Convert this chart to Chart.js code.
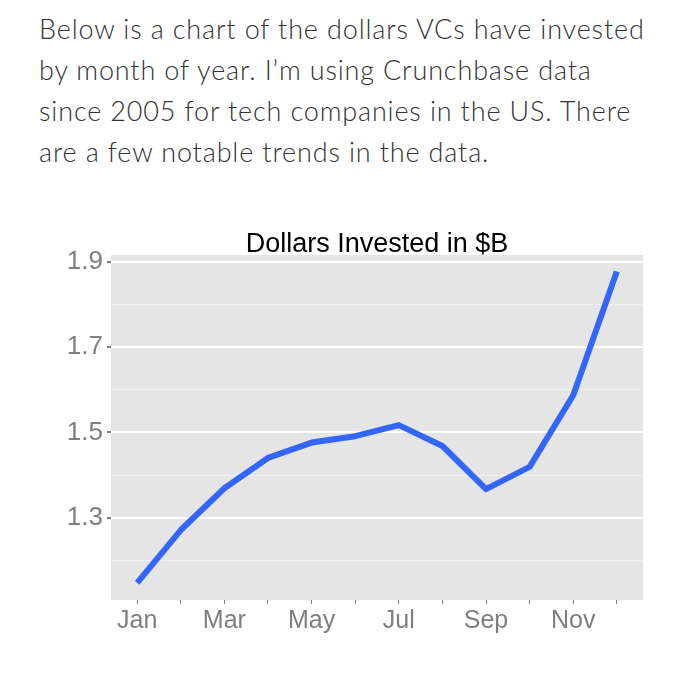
<!DOCTYPE html>
<html>
<head>
<meta charset="utf-8">
<script src="https://cdn.jsdelivr.net/npm/chart.js@4/dist/chart.umd.min.js"></script>
<style>
  html, body { margin: 0; padding: 0; background: #fff; }
  body { width: 690px; height: 679px; position: relative; overflow: hidden; }
  #intro {
    position: absolute; left: 39px; top: 8px; width: 650px; margin: 0;
    font-family: "Lato", "Open Sans", sans-serif; font-weight: 300;
    font-size: 27px; line-height: 41px; letter-spacing: 0.85px; color: #333;
    white-space: nowrap;
  }
  #wrap { position: absolute; left: 0; top: 215px; width: 690px; height: 450px; }
</style>
</head>
<body>
<p id="intro">Below is a chart of the dollars VCs have invested<br>by month of year. I’m using Crunchbase data<br>since 2005 for tech companies in the US. There<br>are a few notable trends in the data.</p>
<div id="wrap"><canvas id="chart"></canvas></div>
<script>
(function () {
  "use strict";

  const chartTitle = "Dollars Invested in $B";
  const months = ["Jan", "Feb", "Mar", "Apr", "May", "Jun", "Jul", "Aug", "Sep", "Oct", "Nov", "Dec"];
  const dollars = [1.147, 1.271, 1.369, 1.440, 1.476, 1.491, 1.517, 1.468, 1.367, 1.419, 1.587, 1.877];
  const yTicks = [1.2, 1.3, 1.4, 1.5, 1.6, 1.7, 1.8, 1.9];
  const yLabels = ["1.3", "1.5", "1.7", "1.9"];

  const FONT = "'Liberation Sans', Arial, Helvetica, sans-serif";
  const GREY = "#7f7f7f";

  function isMajor(v) {
    return yLabels.indexOf(v.toFixed(1)) >= 0;
  }

  // grey panel behind the plot, title centred over the panel (ggplot style)
  const panel = {
    id: "panel",
    beforeDraw(chart) {
      const a = chart.chartArea;
      const ctx = chart.ctx;
      ctx.save();
      ctx.fillStyle = "#e5e5e5";
      ctx.fillRect(a.left, a.top, a.right - a.left, a.bottom - a.top);
      ctx.restore();
    },
    afterDraw(chart) {
      const a = chart.chartArea;
      const ctx = chart.ctx;
      ctx.save();
      ctx.fillStyle = "#000";
      ctx.font = "27px " + FONT;
      ctx.textAlign = "center";
      ctx.textBaseline = "alphabetic";
      ctx.fillText(chartTitle, (a.left + a.right) / 2, a.top - 3);
      ctx.restore();
    },
  };

  const ctx = document.getElementById("chart").getContext("2d");
  new Chart(ctx, {
    type: "line",
    data: {
      datasets: [{
        label: chartTitle,
        data: dollars.map((v, i) => ({ x: i, y: v })),
        borderColor: "#3366ff",
        borderWidth: 6,
        borderCapStyle: "butt",
        borderJoinStyle: "round",
        pointRadius: 0,
        tension: 0,
        fill: false,
      }],
    },
    options: {
      responsive: true,
      maintainAspectRatio: false,
      animation: false,
      layout: { padding: { left: 0, right: 47, top: 40, bottom: 0 } },
      plugins: {
        legend: { display: false },
        tooltip: { enabled: false },
        title: { display: false },
      },
      scales: {
        x: {
          type: "linear",
          min: -0.6,
          max: 11.6,
          afterBuildTicks: (axis) => {
            axis.ticks = months.map((m, i) => ({ value: i }));
          },
          afterFit: (axis) => { axis.height = 65; },
          ticks: {
            autoSkip: false,
            maxRotation: 0,
            padding: 2,
            color: GREY,
            font: { family: FONT, size: 25 },
            callback: (v) => (v % 2 === 0 ? months[v] : ""),
          },
          grid: {
            drawOnChartArea: false,
            drawTicks: true,
            tickLength: 4,
            tickColor: GREY,
          },
          border: { display: false },
        },
        y: {
          min: 1.107,
          max: 1.9157,
          afterBuildTicks: (axis) => {
            axis.ticks = yTicks.map((v) => ({ value: v }));
          },
          afterFit: (axis) => { axis.width = 111; },
          ticks: {
            padding: 4,
            color: GREY,
            font: { family: FONT, size: 26 },
            callback: (v) => (isMajor(v) ? v.toFixed(1) : ""),
          },
          grid: {
            color: (c) => (c.tick && isMajor(c.tick.value) ? "#ffffff" : "#f0f0f0"),
            lineWidth: (c) => (c.tick && isMajor(c.tick.value) ? 2 : 1),
            tickColor: (c) => (c.tick && isMajor(c.tick.value) ? GREY : "rgba(0,0,0,0)"),
            tickLength: 4,
          },
          border: { display: false },
        },
      },
    },
    plugins: [panel],
  });
})();
</script>
</body>
</html>
